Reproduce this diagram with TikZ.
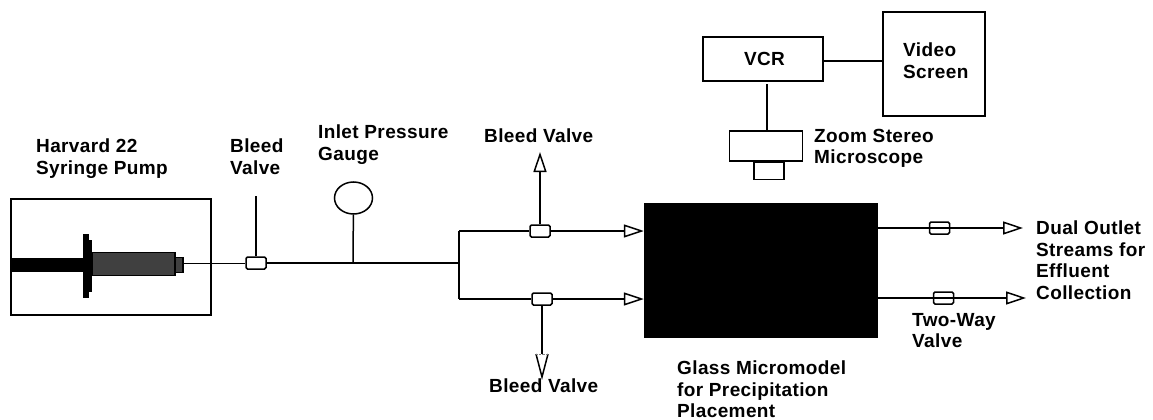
\documentclass[tikz,border=0pt]{standalone}
\usepackage{fontspec}
\setmainfont[LetterSpace=2]{Liberation Sans}
\usetikzlibrary{arrows.meta, shapes.geometric}

\begin{document}
\begin{tikzpicture}[x=1pt,y=-1pt]

\tikzset{part/.style = {shape=rectangle,draw,line width=1.5pt,inner sep=0pt}}
\tikzset{solid part/.style = {shape=rectangle,fill=black,inner sep=0pt}}
\tikzset{dark part/.style = {solid part,fill=black!75,draw=black,line width=1.2pt}}
\tikzset{valve/.style = {part,rounded corners=1.5pt,minimum width=20pt,minimum height=12pt}}
\tikzset{pipe/.style = {line width=1.5pt}}
\tikzset{edge/.style = {pipe,-{Triangle[open,length=20pt,width=13pt,line width=1.5pt]}}}
\tikzset{label/.style = {font=\bfseries\fontsize{19}{21.5}\selectfont,align=left,inner sep=0pt,anchor=north west}}

\useasboundingbox (0,0) rectangle (1153,420);

%pump
\node[part, minimum width=200pt, minimum height=116pt] (pump) at (111,257) {};
\node[solid part, minimum width=72pt, minimum height=14pt] (plunger) at (47,265) {};
\node[solid part, minimum width=6pt, minimum height=64pt] (flange) at (86,266) {};
\node[solid part, minimum width=3pt, minimum height=52pt] (collar) at (90.5,266) {};
\node[dark part, minimum width=83pt, minimum height=23pt] (barrel) at (133.5,264) {};
\node[dark part, minimum width=8pt, minimum height=15pt] (nozzle) at (179,265) {};

%valves
\node[valve] (1) at (256,263) {};
\node[valve] (2) at (540,231) {};
\node[valve] (3) at (542,299) {};
\node[valve] (4) at (939.5,228) {};
\node[valve] (5) at (943.5,298) {};

%gauge and micromodel
\node[part, shape=ellipse, minimum width=38pt, minimum height=32pt] (gauge) at (353.5,198) {};
\node[solid part, minimum width=234pt, minimum height=135pt] (glass) at (761,270.5) {};

%video
\node[part, label, anchor=center, minimum width=120pt, minimum height=44pt] (vcr) at (763,59) {\hspace{3pt}VCR};
\node[part, minimum width=102pt, minimum height=104pt] (screen) at (934,64) {};
\node[part, minimum width=73pt, minimum height=30pt] (scope) at (766,146) {};
\node[part, minimum width=30pt, minimum height=17pt] (lens) at (769,171) {};

%free ends
\coordinate (top1) at (256,196);
\coordinate (tee1) at (353,263);
\coordinate (tee2) at (459,263);
\coordinate (fork1) at (459,231);
\coordinate (fork2) at (459,299);
\coordinate (vent1) at (540,152);
\coordinate (vent2) at (542,377);
\coordinate (vent3) at (542,354);
\coordinate (barb1) at (536,354);
\coordinate (barb2) at (548,354);
\coordinate (out1) at (1023,228);
\coordinate (out2) at (1026,298);
\coordinate (camera) at (767,84);

%lines
\draw [line width=1pt] (nozzle.east |- 1) -- (1);
\draw [pipe] (1) -- (top1);
\draw [pipe] (1) -- (tee2);
\draw [pipe] (gauge) -- (tee1);
\draw [pipe] (fork1) -- (fork2);
\draw [pipe] (fork1) -- (2);
\draw [pipe] (fork2) -- (3);
\draw [edge] (2) -- (vent1);
\draw [pipe] (3) -- (vent3);
\draw [pipe] (barb1) -- (vent2) -- (barb2);
\draw [gray, densely dotted] (barb1) -- (barb2);
\draw [edge] (2) -- (2 -| glass.west);
\draw [edge] (3) -- (3 -| glass.west);
\draw [edge] (4 -| glass.east) -- (out1);
\draw [edge] (5 -| glass.east) -- (out2);
\draw [pipe] (vcr.east |- 0,61) -- (screen.west |- 0,61);
\draw [pipe] (camera) -- (camera |- scope.north);

%labels
\node[label] (l1) at (36,139) {Harvard 22\\Syringe Pump};
\node[label] (l2) at (230,139) {Bleed\\Valve};
\node[label] (l3) at (318,125) {Inlet Pressure\\Gauge};
\node[label] (l4) at (484,129) {Bleed Valve};
\node[label] (l5) at (489,379) {Bleed Valve};
\node[label] (l7) at (903,43) {Video\\Screen};
\node[label] (l8) at (814,129) {Zoom Stereo\\Microscope};
\node[label] (l9) at (677,361) {Glass Micromodel\\for Precipitation\\Placement};
\node[label] (l10) at (912,313) {Two-Way\\Valve};
\node[label] (l11) at (1036,221) {Dual Outlet\\Streams for\\Effluent\\Collection};

\end{tikzpicture}
\end{document}
